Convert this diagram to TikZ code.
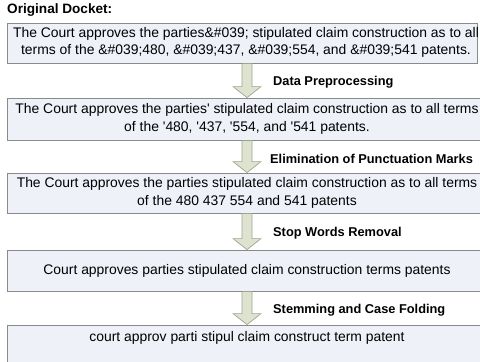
\documentclass[tikz,border=0pt]{standalone}
\usepackage{fontspec}
\setmainfont{Liberation Sans}
\usetikzlibrary{calc}
\definecolor{boxfill}{HTML}{EEF1F8}
\definecolor{boxline}{HTML}{8A8A8A}
\definecolor{arrfill}{HTML}{DDE3CF}
\definecolor{arrline}{HTML}{9EA58E}
\newcommand{\sq}{\textquotesingle}
\tikzset{
  docbox/.style={draw=boxline, fill=boxfill, line width=0.9pt},
  doctext/.style={align=center, font=\fontsize{13.9}{17.5}\selectfont, inner sep=0pt},
  steplabel/.style={anchor=west, font=\bfseries\fontsize{12.8}{15}\selectfont, inner sep=0pt},
  blockarr/.style={draw=arrline, fill=arrfill, line width=0.7pt, line join=miter},
}
\begin{document}
\begin{tikzpicture}[x=1pt,y=-1pt]
\useasboundingbox (0,0) rectangle (480,362);
\clip (0,0) rectangle (480,362);
\node[anchor=west, font=\bfseries\fontsize{13.6}{15}\selectfont, inner sep=0pt] (title) at (7,10) {Original Docket:};
% boxes
\path[docbox] (7,23) rectangle (477,63);
\node[doctext] (b1) at (246,42.5) {The Court approves the parties\&\#039; stipulated claim construction as to all\\ terms of the \&\#039;480, \&\#039;437, \&\#039;554, and \&\#039;541 patents.};
\path[docbox] (7,98) rectangle (490,140);
\node[doctext] (b2) at (247,119) {The Court approves the parties\sq{} stipulated claim construction as to all terms\\ of the \sq480, \sq437, \sq554, and \sq541 patents.};
\path[docbox] (7,173) rectangle (490,213);
\node[doctext] (b3) at (247,193) {The Court approves the parties stipulated claim construction as to all terms\\ of the 480 437 554 and 541 patents};
\path[docbox] (7,250) rectangle (490,291);
\node[doctext] (b4) at (247,270.5) {Court approves parties stipulated claim construction terms patents};
\path[docbox] (7,325) rectangle (490,380);
\node[doctext] (b5) at (247,337.5) {court approv parti stipul claim construct term patent};
% box edge points for the arrows
\coordinate (e1s) at (247,63.4);
\coordinate (e2n) at (247,97.6); \coordinate (e2s) at (247,140.4);
\coordinate (e3n) at (247,172.6); \coordinate (e3s) at (247,213.4);
\coordinate (e4n) at (247,249.6); \coordinate (e4s) at (247,291.4);
\coordinate (e5n) at (247,324.6);
\path[blockarr] ($(e1s)+(-5,0)$) -- ($(e1s)+(5,0)$) -- ($(e2n)+(5,-11)$) -- ($(e2n)+(14,-11)$) -- (e2n) -- ($(e2n)+(-14,-11)$) -- ($(e2n)+(-5,-11)$) -- cycle;
\path[blockarr] ($(e2s)+(-5,0)$) -- ($(e2s)+(5,0)$) -- ($(e3n)+(5,-11)$) -- ($(e3n)+(14,-11)$) -- (e3n) -- ($(e3n)+(-14,-11)$) -- ($(e3n)+(-5,-11)$) -- cycle;
\path[blockarr] ($(e3s)+(-5,0)$) -- ($(e3s)+(5,0)$) -- ($(e4n)+(5,-11)$) -- ($(e4n)+(14,-11)$) -- (e4n) -- ($(e4n)+(-14,-11)$) -- ($(e4n)+(-5,-11)$) -- cycle;
\path[blockarr] ($(e4s)+(-5,0)$) -- ($(e4s)+(5,0)$) -- ($(e5n)+(5,-11)$) -- ($(e5n)+(14,-11)$) -- (e5n) -- ($(e5n)+(-14,-11)$) -- ($(e5n)+(-5,-11)$) -- cycle;
% labels
\node[steplabel] (l1) at (273,82) {Data Preprocessing};
\node[steplabel] (l2) at (270,159) {Elimination of Punctuation Marks};
\node[steplabel] (l3) at (273,233) {Stop Words Removal};
\node[steplabel] (l4) at (273,310) {Stemming and Case Folding};
\end{tikzpicture}
\end{document}
